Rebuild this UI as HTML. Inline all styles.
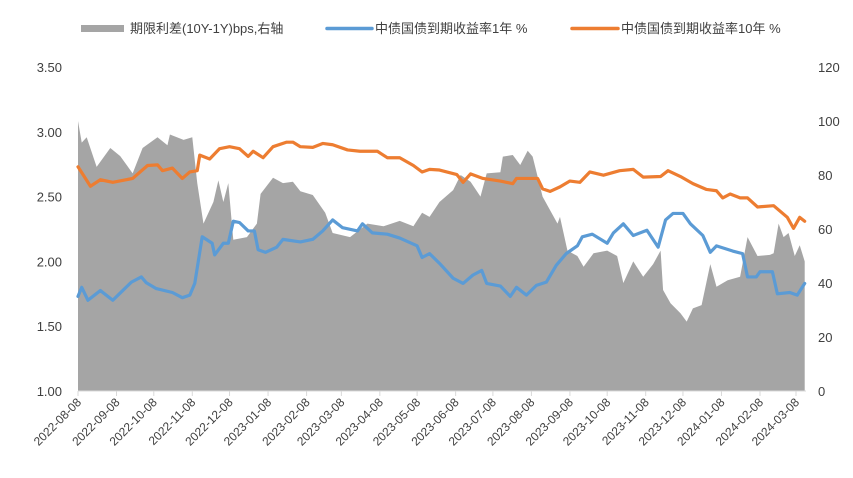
<!DOCTYPE html>
<html><head><meta charset="utf-8">
<style>
body{margin:0;background:#fff;}
svg{display:block;font-family:"Liberation Sans","Noto Sans CJK SC",sans-serif;}
</style></head>
<body>
<svg id="chart" width="853" height="478" viewBox="0 0 853 478">
<g id="legend">
  <rect x="81" y="25" width="43" height="7" fill="#a5a5a5"/>
  <text x="130" y="33" font-size="13" fill="#404040">期限利差(10Y-1Y)bps,右轴</text>
  <line x1="327" y1="28.5" x2="372" y2="28.5" stroke="#5b9bd5" stroke-width="3.5" stroke-linecap="round"/>
  <text x="375" y="33" font-size="13" fill="#404040">中债国债到期收益率1年 %</text>
  <line x1="572" y1="28.5" x2="618" y2="28.5" stroke="#ed7d31" stroke-width="3.5" stroke-linecap="round"/>
  <text x="621" y="33" font-size="13" fill="#404040">中债国债到期收益率10年 %</text>
</g>
<g id="plot"></g>
</svg>
<script>
// day offsets from 2022-08-08
const spreadDays=[0,3,7,15,26,34,44,52,64,72,74,85,92,96,101,109,113,117,121,125,136,144,147,157,165,173,179,189,199,205,219,233,246,259,270,277,283,291,302,308,316,324,329,340,342,350,356,362,366,374,380,386,388,394,402,407,415,426,434,439,447,455,463,469,471,477,485,490,495,502,509,514,523,533,539,547,557,560,564,568,572,577,581,585];
const spreadValues=[100,92,94,83,90,87,80.6,90,94,91,95,93,94,77,62,70,78,70,77,56,57,62,73,79,77,77.5,74,72.6,66,58.5,57,62,61,63,61,66,64.5,70,74.4,80,77.5,72,80.6,81,86.8,87.4,83.7,89,86.8,72,67,62,64.5,52,50,46,51,52,50,40,48,42.3,47,52,37.4,32.5,28.8,25.7,30.6,31.8,47,38.6,41,42.3,57,50,50.4,51,62,57,58.5,50,54,48];
const y1Days=[0,3,8,18,28,36,43,51,55,63,76,84,90,94,100,108,110,117,121,125,130,137,142,145,151,160,165,179,189,197,205,213,225,229,237,249,259,273,277,283,291,302,310,318,325,329,340,348,353,361,369,377,385,393,402,406,414,426,431,439,447,458,467,473,479,487,493,503,509,514,527,535,539,546,549,559,563,573,579,583,585];
const y1Values=[1.73,1.80,1.70,1.775,1.70,1.775,1.84,1.88,1.835,1.79,1.76,1.72,1.74,1.83,2.19,2.14,2.05,2.14,2.14,2.31,2.30,2.235,2.235,2.09,2.07,2.11,2.17,2.15,2.17,2.235,2.32,2.26,2.235,2.29,2.22,2.21,2.18,2.12,2.03,2.06,1.985,1.87,1.83,1.895,1.93,1.83,1.81,1.73,1.80,1.74,1.815,1.84,1.97,2.06,2.12,2.19,2.21,2.14,2.22,2.29,2.20,2.24,2.11,2.32,2.37,2.37,2.29,2.20,2.07,2.12,2.08,2.06,1.88,1.88,1.92,1.92,1.75,1.76,1.74,1.80,1.83];
const y10Days=[0,10,18,28,44,56,64,68,76,84,90,96,98,106,114,122,130,137,141,149,157,168,173,179,189,197,205,217,227,241,249,259,270,277,283,291,305,310,316,326,340,350,353,370,374,380,388,396,404,412,423,436,447,455,469,475,485,495,506,514,519,525,533,539,547,560,571,576,581,585];
const y10Values=[2.73,2.58,2.63,2.61,2.64,2.74,2.745,2.70,2.72,2.64,2.69,2.70,2.82,2.79,2.87,2.885,2.87,2.81,2.85,2.80,2.885,2.92,2.92,2.885,2.88,2.91,2.90,2.86,2.85,2.85,2.80,2.80,2.74,2.69,2.71,2.705,2.67,2.61,2.675,2.64,2.62,2.60,2.64,2.64,2.56,2.54,2.575,2.62,2.61,2.69,2.665,2.70,2.71,2.65,2.655,2.70,2.655,2.60,2.555,2.545,2.49,2.52,2.49,2.49,2.42,2.43,2.34,2.255,2.34,2.31];
const leftTicks=["1.00","1.50","2.00","2.50","3.00","3.50"];
const rightTicks=["0","20","40","60","80","100","120"];
const xLabels=["2022-08-08","2022-09-08","2022-10-08","2022-11-08","2022-12-08","2023-01-08","2023-02-08","2023-03-08","2023-04-08","2023-05-08","2023-06-08","2023-07-08","2023-08-08","2023-09-08","2023-10-08","2023-11-08","2023-12-08","2024-01-08","2024-02-08","2024-03-08"];

const NS="http://www.w3.org/2000/svg";
const plot=document.getElementById('plot');
const X0=78,X1=806,Ytop=67,Ybot=391;
const start=Date.UTC(2022,7,8);
const dayPx=(796-78)/578;
const xOfDay=d=>X0+d*dayPx;
const yL=v=>Ybot-(v-1)/2.5*(Ybot-Ytop);
const yR=v=>Ybot-v/120*(Ybot-Ytop);
function mk(tag,attrs){const e=document.createElementNS(NS,tag);for(const k in attrs)e.setAttribute(k,attrs[k]);return e;}

// area
let d=`M${xOfDay(spreadDays[0])},${Ybot}`;
spreadDays.forEach((dd,i)=>{d+=` L${xOfDay(dd)},${yR(spreadValues[i])}`;});
d+=` L${xOfDay(spreadDays[spreadDays.length-1])},${Ybot} Z`;
const area=mk('path',{d:d,fill:'#a5a5a5'});


plot.appendChild(area);

function line(days,vals,color,name){
  const pts=days.map((dd,i)=>`${xOfDay(dd)},${yL(vals[i])}`).join(' ');
  const p=mk('polyline',{points:pts,fill:'none',stroke:color,'stroke-width':3.2,'stroke-linejoin':'round','stroke-linecap':'round'});
  
  
  plot.appendChild(p);
}
line(y1Days,y1Values,'#5b9bd5','yield-1y-line');
line(y10Days,y10Values,'#ed7d31','yield-10y-line');

// axis
const ax=mk('line',{x1:X0,y1:Ybot,x2:X1,y2:Ybot,stroke:'#d9d9d9','stroke-width':1});


plot.appendChild(ax);

leftTicks.forEach(t=>{
  const tx=mk('text',{x:62,y:yL(parseFloat(t))+5,'text-anchor':'end','font-size':13,fill:'#404040'});
  tx.textContent=t;
  
  
  plot.appendChild(tx);
});
rightTicks.forEach(t=>{
  const tx=mk('text',{x:818,y:yR(parseFloat(t))+5,'text-anchor':'start','font-size':13,fill:'#404040'});
  tx.textContent=t;
  
  
  plot.appendChild(tx);
});
xLabels.forEach(lbl=>{
  const p=lbl.split('-');
  const day=(Date.UTC(+p[0],+p[1]-1,+p[2])-start)/86400000;
  const x=xOfDay(day);
  const tk=mk('line',{x1:x,y1:Ybot,x2:x,y2:Ybot+5,stroke:'#d9d9d9','stroke-width':1});
  
  
  plot.appendChild(tk);
  const tx=mk('text',{x:x+4,y:Ybot+12,'text-anchor':'end','font-size':12,fill:'#404040',transform:`rotate(-45 ${x+4} ${Ybot+12})`});
  tx.textContent=lbl;
  
  
  plot.appendChild(tx);
});
</script>
</body></html>
